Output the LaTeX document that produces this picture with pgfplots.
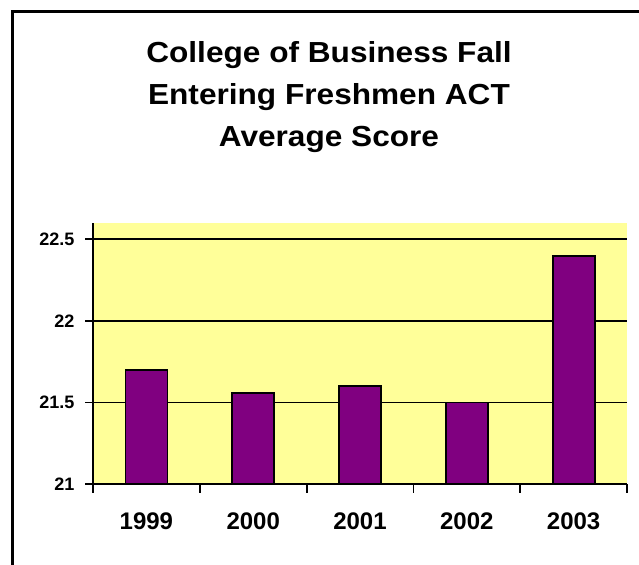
\documentclass[border=0pt]{standalone}
\usepackage{fontspec}
\setmainfont{Liberation Sans}
\newfontfamily\titlefont[FakeStretch=1.09]{Liberation Sans}
\usepackage{pgfplots}
\pgfplotsset{compat=1.18}
\definecolor{bg}{HTML}{FFFF99}
\definecolor{barc}{HTML}{800080}
\begin{document}
\begin{tikzpicture}[x=1bp,y=1bp]
\useasboundingbox (0,0) rectangle (639,565);
\begin{axis}[
  at={(93bp,81bp)}, anchor=south west,
  scale only axis, width=534bp, height=261bp,
  xmin=-0.5, xmax=4.5, ymin=21, ymax=22.6,
  axis x line*=bottom, axis y line*=left,
  axis line style={line width=1.8bp},
  axis background/.style={fill=bg},
  xtick={0,1,2,3,4},
  xticklabels={1999,2000,2001,2002,2003},
  minor xtick={-0.5,0.5,1.5,2.5,3.5,4.5},
  major x tick style={draw=none},
  minor x tick style={line width=1.8bp,black},
  ytick={21,21.5,22,22.5},
  yticklabels={21,21.5,22,22.5},
  y tick style={line width=1.8bp,black},
  tick align=outside,
  major tick length=8bp, minor tick length=9bp,
  ymajorgrids, grid style={line width=1.8bp,black},
  xticklabel style={font=\bfseries\fontsize{24bp}{26bp}\selectfont, yshift=-17bp},
  yticklabel style={font=\bfseries\fontsize{18bp}{20bp}\selectfont, xshift=-7bp},
  ybar, bar width=42bp,
]
\addplot[fill=barc, draw=black, line width=1.8bp] coordinates {(0,21.7) (1,21.56) (2,21.6) (3,21.5) (4,22.4)};
\end{axis}
\draw[line width=3bp] (12,-5) -- (12,553) -- (645,553);
\node[anchor=base, font=\titlefont\bfseries\fontsize{29bp}{30bp}\selectfont] at (329,502) {College of Business Fall};
\node[anchor=base, font=\titlefont\bfseries\fontsize{29bp}{30bp}\selectfont] at (329,460) {Entering Freshmen ACT};
\node[anchor=base, font=\titlefont\bfseries\fontsize{29bp}{30bp}\selectfont] at (329,418) {Average Score};
\end{tikzpicture}
\end{document}
